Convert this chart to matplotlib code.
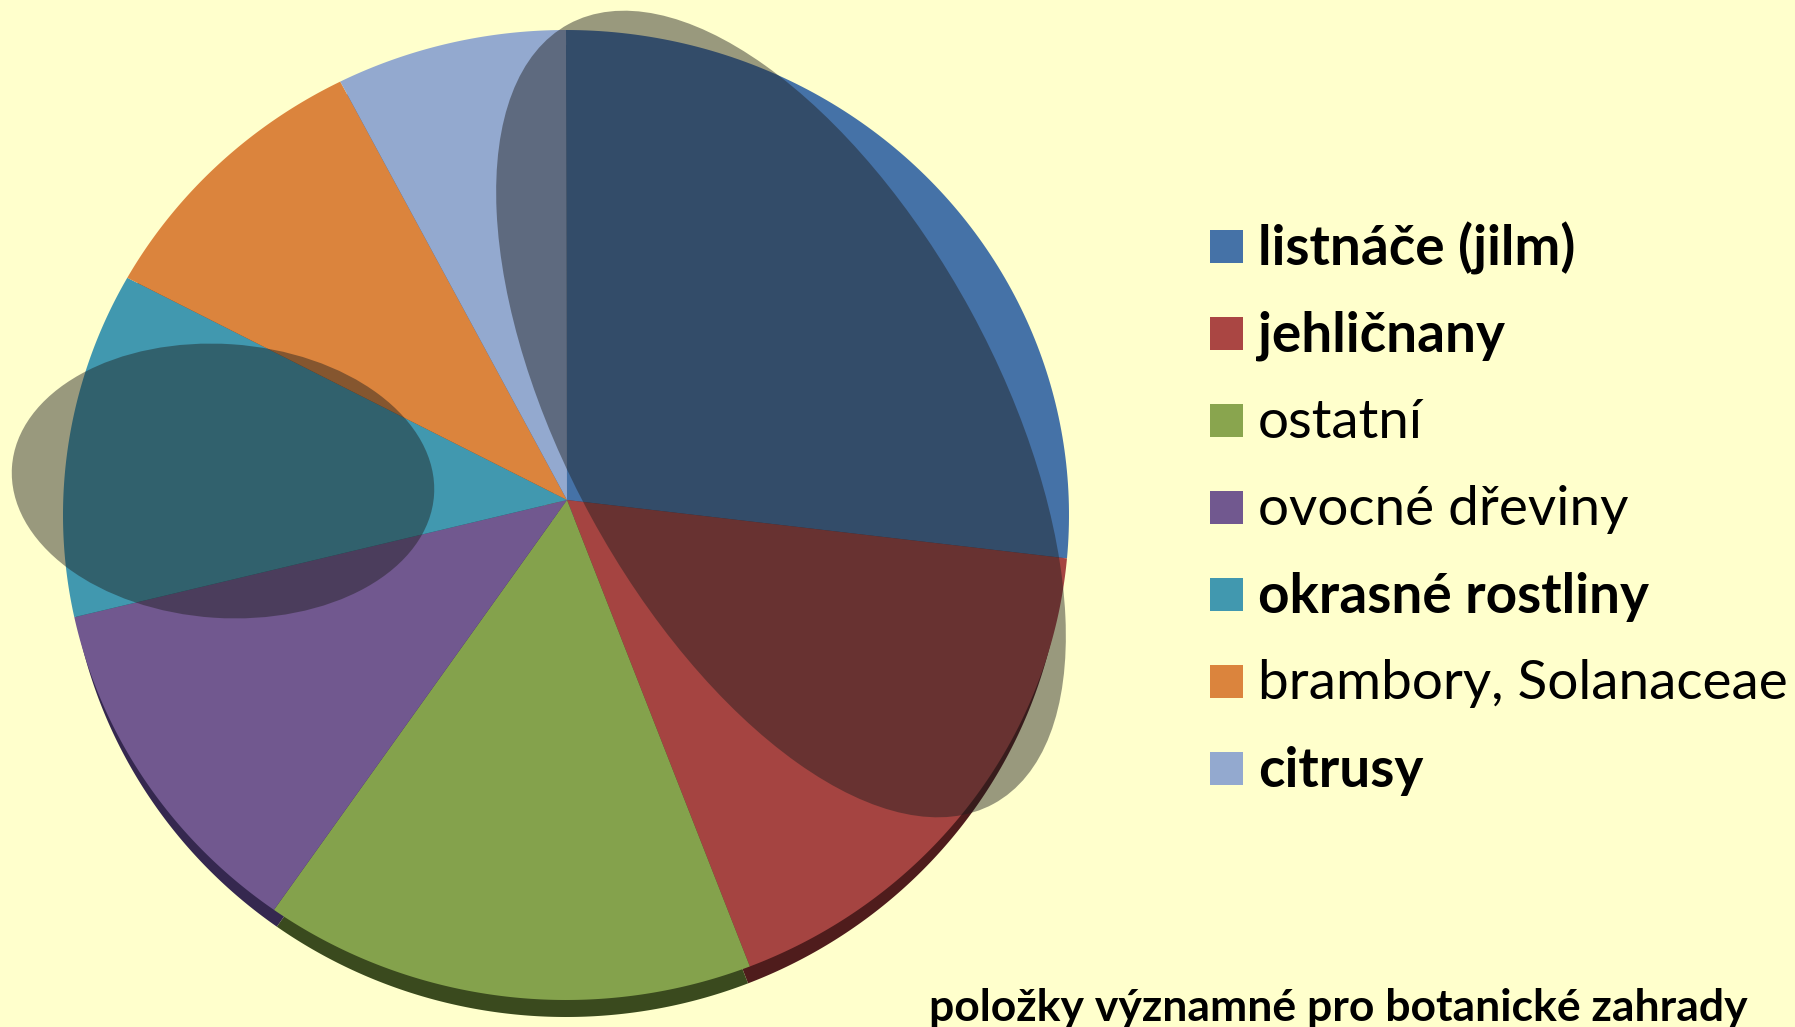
import numpy as np
import matplotlib
matplotlib.use('Agg')
import matplotlib.pyplot as plt
from matplotlib.patches import Ellipse, Polygon, Rectangle

labels = ['listnáče (jilm)', 'jehličnany', 'ostatní', 'ovocné dřeviny',
          'okrasné rostliny', 'brambory, Solanaceae', 'citrusy']
values = [26.4, 17.6, 15.8, 11.75, 11.5, 9.45, 7.4]
bold = [True, True, False, False, True, False, True]
colors = ['#4572A7', '#AA4643', '#89A54E', '#71588F', '#4198AF', '#DB843D', '#93A9CF']
face = ['#4572A7', '#A54441', '#84A24C', '#71588F', '#4198AF', '#DB843D', '#93A9CF']
dark = ['#24405F', '#4F1C1C', '#3A4A1E', '#35284F', '#1F4A55', '#6B401C', '#465270']
note = 'položky významné pro botanické zahrady'

bg = '#FFFFCC'
plt.rcParams['font.family'] = ['Lato', 'DejaVu Sans']

fig = plt.figure(figsize=(17.95, 10.27), dpi=100, facecolor=bg)
ax = fig.add_axes([0, 0, 1, 1])
wedges, _ = ax.pie(values, startangle=90, counterclock=False, colors=colors)
angles = [(w.theta1, w.theta2) for w in wedges]
for w in wedges:
    w.remove()

ax.set_aspect('auto')
ax.set_xlim(0, 1795)
ax.set_ylim(1027, 0)
ax.set_facecolor(bg)
ax.axis('off')


def slice_points(t1, t2, cx, cy, rx, ry, apex):
    t = np.radians(np.linspace(t1, t2, 120))
    arc = np.column_stack([cx + rx * np.cos(t), cy - ry * np.sin(t)])
    return np.vstack([apex, arc])


# dark rim first, then the top face
for (t1, t2), c in zip(angles, dark):
    ax.add_patch(Polygon(slice_points(t1, t2, 566, 531, 498, 486, (567, 517)), color=c, lw=0))
for (t1, t2), c in zip(angles, face):
    ax.add_patch(Polygon(slice_points(t1, t2, 566, 515, 503, 485, (567, 500)), color=c, lw=0))

# the two shaded ellipses laid over the pie
ax.add_patch(Ellipse((781, 414), 888, 432, angle=61.4, color='#1E1E1E', alpha=0.45, lw=0))
ax.add_patch(Ellipse((223, 481), 423, 274, angle=3.8, color='#1E1E1E', alpha=0.45, lw=0))

ys = [244, 331, 418, 505, 592, 679, 766]
squares = [246, 333, 420, 507, 594, 681, 768]
for y, sy, lab, c, b in zip(ys, squares, labels, colors, bold):
    ax.add_patch(Rectangle((1210, sy - 16.5), 33, 33, color=c, lw=0))
    ax.text(1258, y, lab, fontsize=39.5, fontweight='bold' if b else 'normal',
            color='black', va='center_baseline', ha='left')

ax.text(929, 1021, note, fontsize=32, fontweight='bold', color='black', va='baseline', ha='left')

fig.savefig('out.png', dpi=100, facecolor=bg)
